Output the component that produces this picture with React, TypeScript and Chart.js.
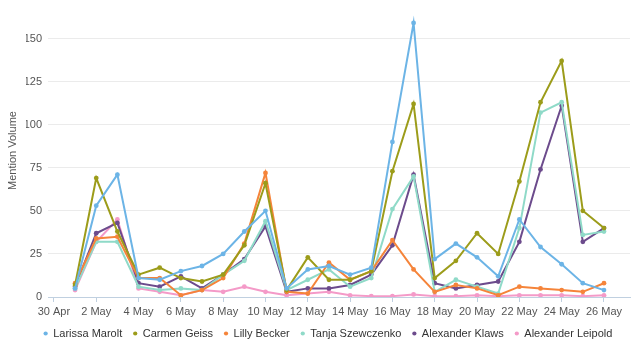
import React, { useEffect, useRef } from "react";
import { Chart, registerables } from "chart.js";

Chart.register(...registerables);

// Dates of the data points (1 May .. 26 May); x position = days after 30 Apr
const dayLabels = [
  "1 May", "2 May", "3 May", "4 May", "5 May", "6 May", "7 May", "8 May", "9 May", "10 May",
  "11 May", "12 May", "13 May", "14 May", "15 May", "16 May", "17 May", "18 May", "19 May",
  "20 May", "21 May", "22 May", "23 May", "24 May", "25 May", "26 May",
];
const tickLabels = [
  "30 Apr", "2 May", "4 May", "6 May", "8 May", "10 May", "12 May",
  "14 May", "16 May", "18 May", "20 May", "22 May", "24 May", "26 May",
];

const seriesNames = [
  "Larissa Marolt", "Carmen Geiss", "Lilly Becker",
  "Tanja Szewczenko", "Alexander Klaws", "Alexander Leipold",
];

const larissaMarolt = [5, 53, 71, 11, 10, 15, 18, 25, 38, 50, 5, 16, 18, 13, 17, 90, 159, 22, 31, 23, 12, 45, 29, 19, 8, 4];
const carmenGeiss = [7, 69, 38, 13, 17, 11, 9, 13, 30, 66, 4, 23, 10, 10, 15, 73, 112, 11, 21, 37, 25, 67, 113, 137, 50, 40];
const lillyBecker = [8, 34, 35, 11, 11, 1, 4, 11, 31, 72, 3, 2, 20, 10, 15, 33, 16, 3, 7, 5, 1, 6, 5, 4, 3, 8];
const tanjaSzewczenko = [5, 32, 32, 6, 4, 5, 4, 13, 21, 44, 4, 10, 16, 6, 11, 51, 70, 3, 10, 6, 2, 40, 107, 113, 36, 38];
const alexanderKlaws = [6, 37, 43, 8, 6, 12, 5, 13, 22, 41, 3, 5, 5, 7, 13, 30, 71, 8, 5, 7, 9, 32, 74, 111, 32, 40];
const alexanderLeipold = [4, 32, 45, 5, 3, 1, 4, 3, 6, 3, 1, 2, 3, 1, 0.5, 0.5, 1.5, 0.5, 0.5, 1, 0.5, 1, 1, 1, 0.5, 1];

const seriesValues = [larissaMarolt, carmenGeiss, lillyBecker, tanjaSzewczenko, alexanderKlaws, alexanderLeipold];
const seriesColors = ["#6cb4e6", "#9c9c1a", "#f5843a", "#8fdac8", "#6c4b8c", "#f49ac8"];

const FONT = "'Liberation Sans', Arial, Helvetica, sans-serif";

export default function App() {
  const ref = useRef<HTMLCanvasElement | null>(null);

  useEffect(() => {
    document.body.style.margin = "0";
    const canvas = ref.current;
    if (!canvas) return;

    const datasets = seriesNames.map((name, s) => ({
      label: name,
      data: seriesValues[s].map((v, i) => ({ x: i + 1, y: v })),
      borderColor: seriesColors[s],
      backgroundColor: seriesColors[s],
      pointBackgroundColor: seriesColors[s],
      pointBorderColor: seriesColors[s],
      borderWidth: 2,
      pointRadius: 2.4,
      pointBorderWidth: 0,
      tension: 0,
    }));

    const chart = new Chart(canvas, {
      type: "line",
      data: { datasets },
      options: {
        animation: false,
        responsive: false,
        maintainAspectRatio: false,
        layout: { padding: { left: 26, right: 13, top: 0, bottom: 15 } },
        plugins: {
          tooltip: { enabled: false },
          legend: {
            position: "bottom",
            labels: {
              usePointStyle: true,
              pointStyle: "circle",
              boxWidth: 4,
              boxHeight: 3,
              padding: 11,
              color: "#333",
              font: { family: FONT, size: 11 },
            },
          },
        },
        scales: {
          x: {
            type: "linear",
            min: -0.28,
            max: 27.23,
            afterBuildTicks: (scale: any) => {
              scale.ticks = tickLabels.map((_, i) => ({ value: i * 2 }));
            },
            afterFit: (scale: any) => {
              scale.height = 20;
            },
            ticks: {
              autoSkip: false,
              maxRotation: 0,
              minRotation: 0,
              padding: 3,
              color: "#555",
              font: { family: FONT, size: 11 },
              callback: (v: any) => tickLabels[Math.round(Number(v) / 2)] ?? "",
            },
            grid: {
              drawOnChartArea: false,
              drawTicks: true,
              tickLength: 5,
              color: "#c0d0e0",
            },
            border: { display: true, color: "#c0d0e0" },
          },
          y: {
            min: 0,
            max: 170,
            afterFit: (scale: any) => {
              scale.width = 22;
              scale.paddingTop = 0;
              scale.paddingBottom = 0;
            },
            ticks: {
              stepSize: 25,
              includeBounds: false,
              padding: 6,
              color: "#555",
              font: { family: FONT, size: 11 },
            },
            grid: { color: "#ebebeb", drawTicks: false },
            border: { display: false },
            title: {
              display: true,
              text: "Mention Volume",
              color: "#555",
              font: { family: FONT, size: 11 },
              padding: { top: -20, bottom: 0 },
            },
          },
        },
      },
    } as any);

    return () => chart.destroy();
  }, []);

  return (
    <div style={{ width: 643, height: 364 }}>
      <canvas ref={ref} width={643} height={364} style={{ display: "block" }} />
    </div>
  );
}
